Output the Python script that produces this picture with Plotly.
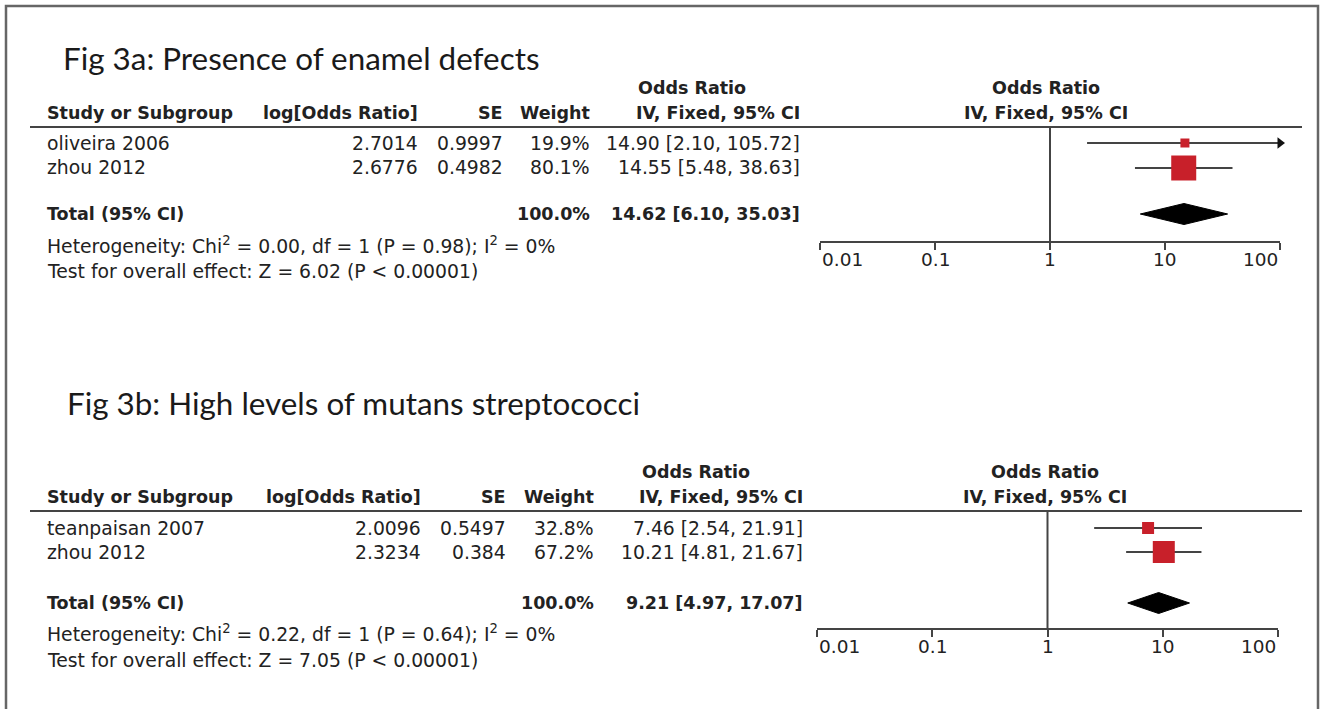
import math
import plotly.graph_objects as go

W, H = 1327, 709

# ---------------- data ----------------
titles = ["Fig 3a: Presence of enamel defects",
          "Fig 3b: High levels of mutans streptococci"]

studies_a = ["oliveira 2006", "zhou 2012"]
log_or_a = ["2.7014", "2.6776"]
se_a = ["0.9997", "0.4982"]
weight_a = [19.9, 80.1]
or_a = [14.90, 14.55]
lo_a = [2.10, 5.48]
hi_a = [105.72, 38.63]
total_a = [14.62, 6.10, 35.03]
het_a = "Heterogeneity: Chi<sup>2</sup> = 0.00, df = 1 (P = 0.98); I<sup>2</sup> = 0%"
test_a = "Test for overall effect: Z = 6.02 (P < 0.00001)"

studies_b = ["teanpaisan 2007", "zhou 2012"]
log_or_b = ["2.0096", "2.3234"]
se_b = ["0.5497", "0.384"]
weight_b = [32.8, 67.2]
or_b = [7.46, 10.21]
lo_b = [2.54, 4.81]
hi_b = [21.91, 21.67]
total_b = [9.21, 4.97, 17.07]
het_b = "Heterogeneity: Chi<sup>2</sup> = 0.22, df = 1 (P = 0.64); I<sup>2</sup> = 0%"
test_b = "Test for overall effect: Z = 7.05 (P < 0.00001)"

tick_vals = [0.01, 0.1, 1, 10, 100]
tick_text = ["0.01", "0.1", "1", "10", "100"]

col_headers = ["Study or Subgroup", "log[Odds Ratio]", "SE", "Weight"]
or_header = ["Odds Ratio", "IV, Fixed, 95% CI"]
total_label = "Total (95% CI)"

# ---------------- layout / styles ----------------
TXT = "#222222"
LINE = "#444444"
RED = "#C8202A"
FONT = "DejaVu Sans"
TITLE_FONT = "Lato"
FS = 18.8        # regular text
FS_B = 17.5      # bold text
TICK_FS = 18.5

panels = [
    dict(studies=studies_a, logor=log_or_a, se=se_a, w=weight_a, est=or_a, lo=lo_a, hi=hi_a,
         total=total_a, het=het_a, test=test_a, title=titles[0],
         title_x=61, title_y=58, or_y=88, hdr_y=113, line_y=127, rows_y=[143, 168],
         total_y=214, het_y=245, test_y=271, axis_y=241, tick_y=259,
         px0=820, px1=1280, cols=[45, 420, 505, 592, 802], or_hdr_x=692, plot_hdr_x=1046,
         sizes=[9, 25], xa="x", ya="y", xa_in="x3"),
    dict(studies=studies_b, logor=log_or_b, se=se_b, w=weight_b, est=or_b, lo=lo_b, hi=hi_b,
         total=total_b, het=het_b, test=test_b, title=titles[1],
         title_x=65, title_y=403, or_y=472, hdr_y=497, line_y=511, rows_y=[528, 552],
         total_y=603, het_y=633, test_y=660, axis_y=628, tick_y=646,
         px0=817, px1=1278, cols=[45, 423, 508, 596, 805], or_hdr_x=696, plot_hdr_x=1045,
         sizes=[12, 22], xa="x2", ya="y2", xa_in="x4"),
]


def px(x):
    return x / W


def py(y):
    return 1 - y / H


fig = go.Figure()
annotations = []
shapes = []


def text(x, y, s, anchor="left", bold=False, size=None, family=FONT, color=TXT):
    if size is None:
        size = FS_B if bold else FS
    annotations.append(dict(
        x=px(x), y=py(y), xref="paper", yref="paper", text=("<b>%s</b>" % s) if bold else s,
        showarrow=False, xanchor=anchor, yanchor="middle",
        font=dict(family=family, size=size, color=color)))


layout_axes = {}
for i, p in enumerate(panels):
    xa, ya, xin = p["xa"], p["ya"], p["xa_in"]
    xkey = "xaxis" if xa == "x" else "xaxis" + xa[1:]
    ykey = "yaxis" if ya == "y" else "yaxis" + ya[1:]
    inkey = "xaxis" + xin[1:]
    ydom = [py(p["axis_y"]), py(p["line_y"])]
    xdom = [px(p["px0"]), px(p["px1"])]
    layout_axes[xkey] = dict(type="log", range=[-2, 2], domain=xdom, anchor=ya,
                             showline=True, linecolor=LINE, linewidth=2,
                             ticks="outside", ticklen=7, tickwidth=1.6, tickcolor=LINE,
                             tickvals=tick_vals, showticklabels=False,
                             showgrid=False, zeroline=False)
    layout_axes[inkey] = dict(type="log", range=[-2, 2], overlaying=xa, anchor=ya,
                              showline=False, ticks="inside", ticklen=7, tickwidth=1.6,
                              tickcolor=LINE, tickvals=tick_vals, showticklabels=False,
                              showgrid=False, zeroline=False)
    layout_axes[ykey] = dict(domain=ydom, range=[p["axis_y"], p["line_y"]], visible=False,
                             fixedrange=True)

    # line of no effect
    fig.add_trace(go.Scatter(x=[1, 1], y=[p["line_y"], p["axis_y"]], mode="lines",
                             line=dict(color=LINE, width=2), xaxis=xa, yaxis=ya,
                             hoverinfo="skip", cliponaxis=False))

    # studies
    for j, name in enumerate(p["studies"]):
        yv = p["rows_y"][j]
        hi_c = min(p["hi"][j], tick_vals[-1])
        fig.add_trace(go.Scatter(x=[p["lo"][j], hi_c], y=[yv, yv], mode="lines",
                                 line=dict(color=LINE, width=1.8), xaxis=xa, yaxis=ya,
                                 cliponaxis=False, hoverinfo="skip"))
        if p["hi"][j] > tick_vals[-1]:
            fig.add_trace(go.Scatter(x=[hi_c], y=[yv], mode="markers",
                                     marker=dict(symbol="triangle-right", size=10, color="#111"),
                                     xaxis=xa, yaxis=ya, cliponaxis=False, hoverinfo="skip"))
        fig.add_trace(go.Scatter(x=[p["est"][j]], y=[yv], mode="markers",
                                 marker=dict(symbol="square", size=p["sizes"][j], color=RED,
                                             line=dict(width=0)),
                                 xaxis=xa, yaxis=ya, cliponaxis=False, hoverinfo="skip"))
        c = p["cols"]
        text(c[0], yv, name)
        text(c[1], yv, p["logor"][j], "right")
        text(c[2], yv, p["se"][j], "right")
        text(c[3], yv, "%.1f%%" % p["w"][j], "right")
        text(c[4], yv, "%.2f [%.2f, %.2f]" % (p["est"][j], p["lo"][j], p["hi"][j]), "right")

    # total diamond
    est, lo, hi = p["total"]
    ty = p["total_y"]
    fig.add_trace(go.Scatter(x=[lo, est, hi, est, lo], y=[ty, ty - 10.5, ty, ty + 10.5, ty],
                             mode="lines", fill="toself", fillcolor="#000",
                             line=dict(color="#000", width=1), xaxis=xa, yaxis=ya,
                             cliponaxis=False, hoverinfo="skip"))

    c = p["cols"]
    # title
    text(p["title_x"], p["title_y"], p["title"], size=31.4, family=TITLE_FONT, color="#1a1a1a")
    # headers
    text(c[0], p["hdr_y"], col_headers[0], bold=True)
    text(c[1], p["hdr_y"], col_headers[1], "right", bold=True)
    text(c[2], p["hdr_y"], col_headers[2], "right", bold=True)
    text(c[3], p["hdr_y"], col_headers[3], "right", bold=True)
    text(p["or_hdr_x"], p["or_y"], or_header[0], "center", bold=True)
    text(c[4], p["hdr_y"], or_header[1], "right", bold=True)
    text(p["plot_hdr_x"], p["or_y"], or_header[0], "center", bold=True)
    text(p["plot_hdr_x"], p["hdr_y"], or_header[1], "center", bold=True)
    # totals
    text(c[0], ty, total_label, bold=True)
    text(c[3], ty, "%.1f%%" % sum(p["w"]), "right", bold=True)
    text(c[4], ty, "%.2f [%.2f, %.2f]" % (est, lo, hi), "right", bold=True)
    text(c[0], p["het_y"], p["het"])
    text(c[0], p["test_y"], p["test"])

    # header rule
    shapes.append(dict(type="line", xref="paper", yref="paper", x0=px(30), x1=px(1302),
                       y0=py(p["line_y"]), y1=py(p["line_y"]), line=dict(color=LINE, width=2)))

    # tick labels
    for k, (tv, tt) in enumerate(zip(tick_vals, tick_text)):
        anchor = "left" if k == 0 else ("right" if k == len(tick_vals) - 1 else "center")
        annotations.append(dict(x=math.log10(tv), y=py(p["tick_y"]), xref=xa, yref="paper",
                                text=tt, showarrow=False, xanchor=anchor, yanchor="middle",
                                font=dict(family=FONT, size=TICK_FS, color=TXT)))

# outer frame
shapes.append(dict(type="rect", xref="paper", yref="paper", x0=px(6), x1=px(1318),
                   y0=py(760), y1=py(6), line=dict(color="#666", width=2.5)))

fig.update_layout(width=W, height=H, margin=dict(l=0, r=0, t=0, b=0),
                  paper_bgcolor="white", plot_bgcolor="rgba(0,0,0,0)",
                  showlegend=False, annotations=annotations, shapes=shapes, **layout_axes)

fig.write_html("out.html", config={"displayModeBar": False},
               post_script="document.body.style.margin='0';document.body.style.overflow='hidden';")
